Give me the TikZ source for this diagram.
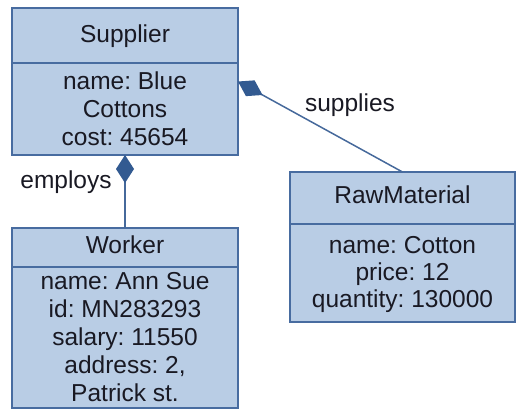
\documentclass[tikz,border=0pt]{standalone}
\usepackage{fontspec}
\setmainfont{Liberation Sans}
\usetikzlibrary{arrows.meta}
\definecolor{boxfill}{RGB}{185,205,229}
\definecolor{boxline}{RGB}{72,108,160}
\definecolor{linkc}{RGB}{70,105,155}
\definecolor{diam}{RGB}{50,90,145}
\definecolor{txt}{RGB}{25,25,35}
\frenchspacing
\begin{document}
\begin{tikzpicture}[x=1pt,y=-1pt,
  umlbox/.style={draw=boxline, line width=1.5pt, fill=boxfill, inner sep=0pt, outer sep=0pt, anchor=north west},
  divider/.style={draw=boxline, line width=1.5pt},
  lbl/.style={font=\fontsize{24.5}{28}\selectfont\frenchspacing, text=txt, anchor=base, inner sep=0pt},
  link/.style={draw=linkc, line width=1.5pt},
  comp/.style={{Diamond[length=28pt,width=18pt,fill=diam,color=diam]}-}]
\useasboundingbox (0,0) rectangle (516,412);
% Supplier
\node[umlbox, minimum width=226pt, minimum height=147pt] (sup) at (12,8) {};
\draw[divider] (sup.west |- 0,63) -- (sup.east |- 0,63);
\node[lbl] (supT) at (125,43) {Supplier};
\node[lbl] (supA) at (125,89) {name: Blue};
\node[lbl] (supB) at (125,117) {Cottons};
\node[lbl] (supC) at (125,145) {cost: 45654};
% Worker
\node[umlbox, minimum width=226pt, minimum height=180pt] (wor) at (12,228) {};
\draw[divider] (wor.west |- 0,267) -- (wor.east |- 0,267);
\node[lbl] (worT) at (125,253) {Worker};
\node[lbl] (worA) at (125,289) {name: Ann Sue};
\node[lbl] (worB) at (125,317) {id: MN283293};
\node[lbl] (worC) at (125,345) {salary: 11550};
\node[lbl] (worD) at (125,373) {address: 2,};
\node[lbl] (worE) at (125,401) {Patrick st.};
% RawMaterial
\node[umlbox, minimum width=225pt, minimum height=150pt] (raw) at (290,172) {};
\draw[divider] (raw.west |- 0,224) -- (raw.east |- 0,224);
\node[lbl] (rawT) at (402.5,203) {RawMaterial};
\node[lbl] (rawA) at (402.5,253) {name: Cotton};
\node[lbl] (rawB) at (402.5,280) {price: 12};
\node[lbl] (rawC) at (402.5,307) {quantity: 130000};
% connectors
\draw[link, comp] (sup.south) -- (wor.north);
\draw[link, comp] (sup.east) -- (raw.north);
\node[lbl] (emp) at (66,188) {employs};
\node[lbl] (supl) at (350,111) {supplies};
\end{tikzpicture}
\end{document}
